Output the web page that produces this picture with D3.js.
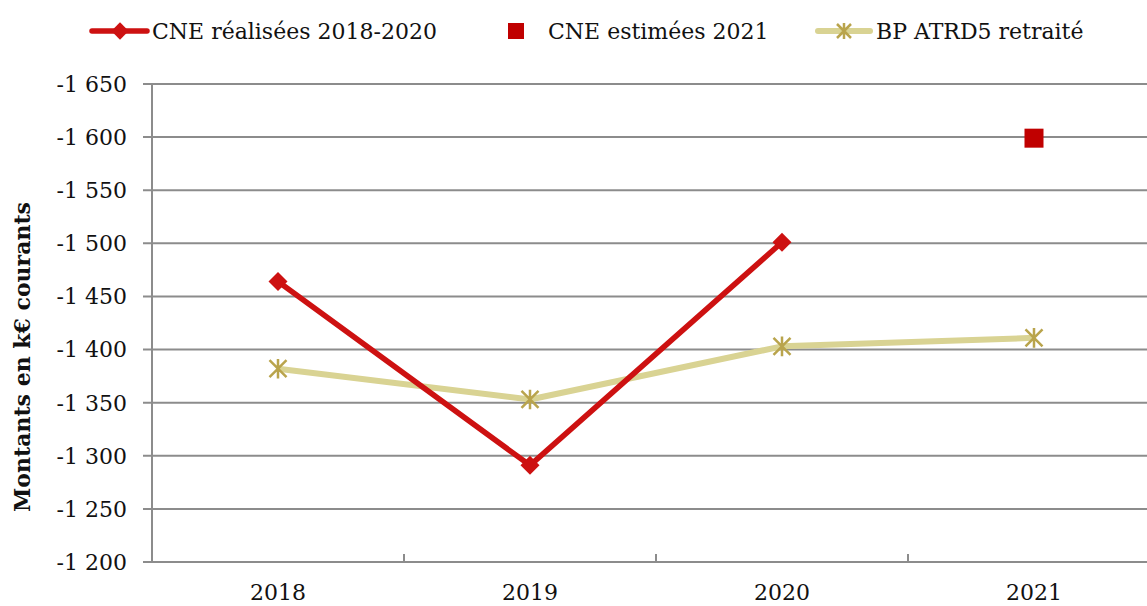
<!DOCTYPE html>
<html><head><meta charset="utf-8">
<script src="https://cdn.jsdelivr.net/npm/d3@7"></script>
<style>
html,body{margin:0;padding:0;background:#fff;}
svg{display:block;font-family:"DejaVu Serif",serif;}
</style></head>
<body><svg id="c" width="1147" height="606"></svg>
<script>
const categories = ["2018", "2019", "2020", "2021"];
const realisees = [-1464, -1291, -1501, null];
const estimees = [null, null, null, -1599];
const bpRetraite = [-1382, -1353, -1403, -1411];
const yTicks = [-1650, -1600, -1550, -1500, -1450, -1400, -1350, -1300, -1250, -1200];
const seriesNames = ["CNE réalisées 2018-2020", "CNE estimées 2021", "BP ATRD5 retraité"];
const yTitle = "Montants en k€ courants";

(function(){
const svg = d3.select("#c");
const pL = 152, pR = 1160, pT = 84, pB = 562;
const x = d3.scaleBand().domain(categories).range([pL, pR]).padding(0);
const y = d3.scaleLinear().domain([-1200, -1650]).range([pB, pT]);
const loc = d3.formatLocale({decimal: ",", thousands: " ", grouping: [3], currency: ["", ""], minus: "-"});
const fmt = loc.format(",d");
const gridColor = "#8c8c8c";
const redC = "#cd1111", sqC = "#c00000", yelLine = "#d9d393", yelMark = "#b9a44c";
const fontSize = 22;

svg.append("g").selectAll("line").data(yTicks).join("line")
  .attr("x1", pL - 9).attr("x2", pR).attr("y1", d => y(d)).attr("y2", d => y(d))
  .attr("stroke", gridColor).attr("stroke-width", 2);
svg.append("line").attr("x1", pL).attr("x2", pL).attr("y1", pT).attr("y2", pB)
  .attr("stroke", gridColor).attr("stroke-width", 2);
svg.append("g").selectAll("text").data(yTicks).join("text")
  .attr("x", 127).attr("y", d => y(d)).attr("dy", "0.36em").attr("text-anchor", "end")
  .attr("font-size", fontSize).attr("fill", "#111").text(d => fmt(d));
const bounds = categories.slice(1).map(c => x(c));
svg.append("g").selectAll("line").data(bounds).join("line")
  .attr("x1", d => d).attr("x2", d => d).attr("y1", pB - 8).attr("y2", pB)
  .attr("stroke", gridColor).attr("stroke-width", 2);
svg.append("g").selectAll("text").data(categories).join("text")
  .attr("x", d => x(d) + x.bandwidth() / 2).attr("y", 600).attr("text-anchor", "middle")
  .attr("font-size", fontSize).attr("fill", "#111").text(d => d);
svg.append("text").attr("transform", "translate(30,357) rotate(-90)").attr("text-anchor", "middle")
  .attr("font-size", fontSize).attr("font-weight", "bold").attr("fill", "#111").text(yTitle);

const cx = c => x(c) + x.bandwidth() / 2;
const bpData = categories.map((c, i) => ({c, v: bpRetraite[i]}));
svg.append("path").datum(bpData)
  .attr("d", d3.line().x(d => cx(d.c)).y(d => y(d.v)))
  .attr("fill", "none").attr("stroke", yelLine).attr("stroke-width", 6).attr("stroke-linejoin", "round");
function star(s){ const h = s/2; return `M${-h},${-h}L${h},${h}M${-h},${h}L${h},${-h}M0,${-h*1.15}L0,${h*1.15}`; }
svg.append("g").selectAll("path").data(bpData).join("path")
  .attr("transform", d => `translate(${cx(d.c)},${y(d.v)})`)
  .attr("d", star(17)).attr("stroke", yelMark).attr("stroke-width", 2.5).attr("fill", "none");

const rData = categories.map((c, i) => ({c, v: realisees[i]})).filter(d => d.v !== null);
svg.append("path").datum(rData)
  .attr("d", d3.line().x(d => cx(d.c)).y(d => y(d.v)))
  .attr("fill", "none").attr("stroke", redC).attr("stroke-width", 5.5).attr("stroke-linejoin", "round");
svg.append("g").selectAll("path").data(rData).join("path")
  .attr("transform", d => `translate(${cx(d.c)},${y(d.v)}) rotate(45)`)
  .attr("d", d3.symbol().type(d3.symbolSquare).size(180)()).attr("fill", redC);

const eData = categories.map((c, i) => ({c, v: estimees[i]})).filter(d => d.v !== null);
svg.append("g").selectAll("rect").data(eData).join("rect")
  .attr("x", d => cx(d.c) - 9.5).attr("y", d => y(d.v) - 9.5).attr("width", 19).attr("height", 19)
  .attr("fill", sqC);

const ly = 31;
const lg = svg.append("g").attr("font-size", fontSize).attr("fill", "#111");
lg.append("line").attr("x1", 92).attr("x2", 147).attr("y1", ly).attr("y2", ly)
  .attr("stroke", redC).attr("stroke-width", 5.5).attr("stroke-linecap", "round");
lg.append("path").attr("transform", `translate(120,${ly}) rotate(45)`)
  .attr("d", d3.symbol().type(d3.symbolSquare).size(150)()).attr("fill", redC);
lg.append("text").attr("x", 152).attr("y", ly).attr("dy", "0.36em").text(seriesNames[0]);
lg.append("rect").attr("x", 508).attr("y", ly - 8).attr("width", 16).attr("height", 16).attr("fill", sqC);
lg.append("text").attr("x", 548).attr("y", ly).attr("dy", "0.36em").text(seriesNames[1]);
lg.append("line").attr("x1", 818).attr("x2", 870).attr("y1", ly).attr("y2", ly)
  .attr("stroke", yelLine).attr("stroke-width", 6).attr("stroke-linecap", "round");
lg.append("path").attr("transform", `translate(844,${ly})`).attr("d", star(14))
  .attr("stroke", yelMark).attr("stroke-width", 2.5).attr("fill", "none");
lg.append("text").attr("x", 876).attr("y", ly).attr("dy", "0.36em").text(seriesNames[2]);
})();
</script></body></html>
